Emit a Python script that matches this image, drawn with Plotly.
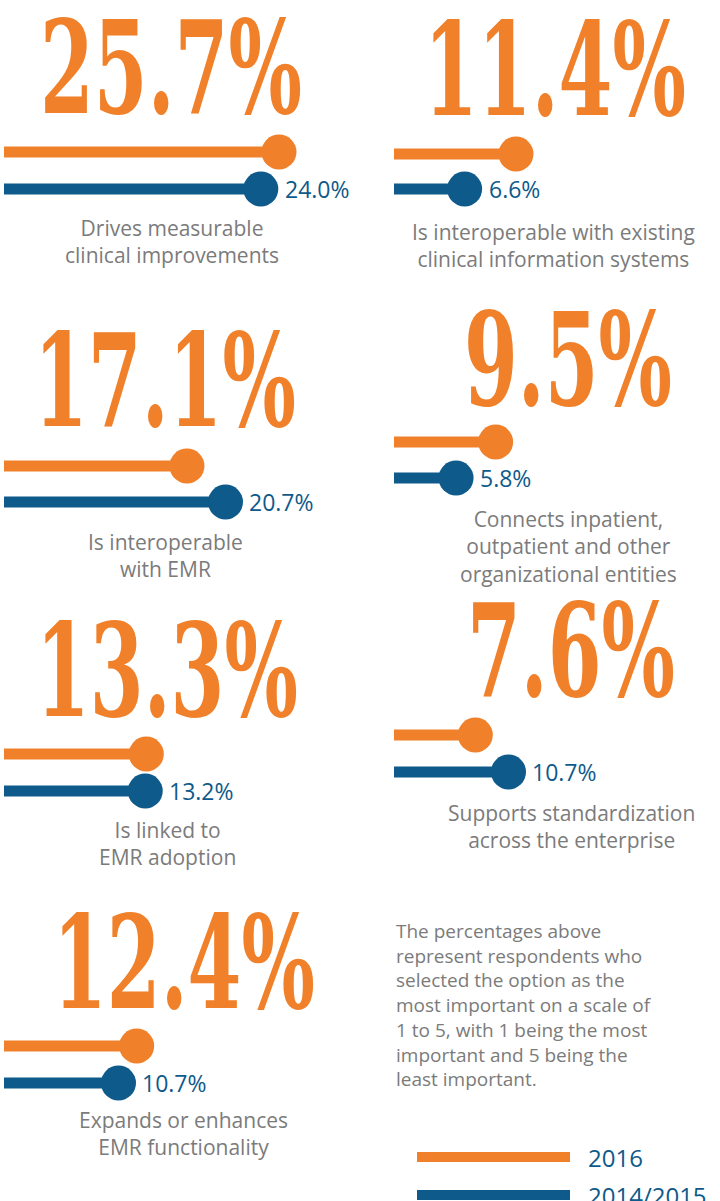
import plotly.graph_objects as go

# ---------------- data ----------------
descriptions = [
    "Drives measurable<br>clinical improvements",
    "Is interoperable with existing<br>clinical information systems",
    "Is interoperable<br>with EMR",
    "Connects inpatient,<br>outpatient and other<br>organizational entities",
    "Is linked to<br>EMR adoption",
    "Supports standardization<br>across the enterprise",
    "Expands or enhances<br>EMR functionality",
]
values_2016 = [25.7, 11.4, 17.1, 9.5, 13.3, 7.6, 12.4]
values_2014_2015 = [24.0, 6.6, 20.7, 5.8, 13.2, 10.7, 10.7]
series_names = ["2016", "2014/2015"]
note_text = ("The percentages above<br>represent respondents who<br>selected the option as the<br>"
             "most important on a scale of<br>1 to 5, with 1 being the most<br>"
             "important and 5 being the<br>least important.")

# ---------------- styling / layout (pixels) ----------------
W, H = 720, 1201
ORANGE = "#F0812A"
BLUE = "#0E5A8A"
GRAY = "#7B7B7B"
PX_PER_UNIT = 10.7
AXIS_PX = 300

panel_x0 = [4, 394, 4, 394, 4, 394, 4]
orange_y = [152, 154, 466, 442, 754, 735, 1046]
blue_y = [189, 189, 502, 478, 791, 772, 1083]
num_cx = [171, 555, 165, 568, 167, 571, 184]
num_cy = [67, 70, 380, 359, 670, 650, 962]
desc_cx = [172, 553, 165, 568, 167, 571, 183]
desc_cy = [241, 245, 556, 547, 843, 827, 1133]

BIG_FONT = "DejaVu Serif Condensed, DejaVu Sans Condensed, serif"
BIG_SIZE = 86
BIG_STRETCH = 1.5
TXT_FONT = "Open Sans, Lato, sans-serif"

fig = go.Figure()
annotations = []
layout_axes = {}

for i in range(len(values_2016)):
    n = i + 1
    xa = "x" if n == 1 else f"x{n}"
    ya = "y" if n == 1 else f"y{n}"
    for val, yv, col in ((values_2016[i], 1, ORANGE), (values_2014_2015[i], 0, BLUE)):
        fig.add_trace(go.Scatter(
            x=[0, val], y=[yv, yv], xaxis=xa, yaxis=ya,
            mode="lines+markers",
            line=dict(color=col, width=11),
            marker=dict(size=[0, 35], color=col, opacity=1, line=dict(width=0)),
            hoverinfo="skip", showlegend=False,
        ))
    x0 = panel_x0[i]
    dpx = blue_y[i] - orange_y[i]
    layout_axes[f"xaxis{n if n > 1 else ''}"] = dict(
        domain=[x0 / W, (x0 + AXIS_PX) / W], range=[0, AXIS_PX / PX_PER_UNIT],
        anchor=ya, visible=False, fixedrange=True)
    layout_axes[f"yaxis{n if n > 1 else ''}"] = dict(
        domain=[1 - (blue_y[i] + dpx) / H, 1 - (orange_y[i] - dpx) / H],
        range=[-1, 2], anchor=xa, visible=False, fixedrange=True)
    # big 2016 number
    annotations.append(dict(
        text=f"<b>{values_2016[i]:.1f}%</b>", x=num_cx[i] / W, y=1 - num_cy[i] / H,
        xref="paper", yref="paper", xanchor="center", yanchor="middle", showarrow=False,
        font=dict(family=BIG_FONT, size=BIG_SIZE, color=ORANGE)))
    # 2014/2015 value label
    annotations.append(dict(
        text=f"{values_2014_2015[i]:.1f}%", x=values_2014_2015[i], y=0,
        xref=xa, yref=ya, xanchor="left", yanchor="middle", xshift=22, showarrow=False,
        font=dict(family=TXT_FONT, size=23, color=BLUE)))
    # description
    annotations.append(dict(
        text=descriptions[i], x=desc_cx[i] / W, y=1 - desc_cy[i] / H,
        xref="paper", yref="paper", xanchor="center", yanchor="middle",
        align="center", showarrow=False,
        font=dict(family=TXT_FONT, size=21, color=GRAY)))

# note
annotations.append(dict(
    text=note_text, x=394 / W, y=1 - 1005 / H, xref="paper", yref="paper",
    xanchor="left", yanchor="middle", align="left", showarrow=False,
    font=dict(family=TXT_FONT, size=19, color=GRAY)))

# legend
shapes = []
for name, col, ly in ((series_names[0], ORANGE, 1157), (series_names[1], BLUE, 1195)):
    shapes.append(dict(type="line", xref="paper", yref="paper",
                       x0=417 / W, x1=570 / W, y0=1 - ly / H, y1=1 - ly / H,
                       line=dict(color=col, width=10)))
    annotations.append(dict(
        text=name, x=586 / W, y=1 - ly / H, xref="paper", yref="paper",
        xanchor="left", yanchor="middle", showarrow=False,
        font=dict(family=TXT_FONT, size=24, color=BLUE)))

fig.update_layout(
    width=W, height=H, margin=dict(l=0, r=0, t=0, b=0),
    paper_bgcolor="white", plot_bgcolor="white",
    showlegend=False, annotations=annotations, shapes=shapes,
    hovermode=False,
    **layout_axes,
)

post_js = """
document.body.style.margin = '0';
var gd = document.getElementById('{plot_id}');
function stretchBig() {
  var texts = gd.querySelectorAll('g.annotation text.annotation-text');
  texts.forEach(function (t) {
    var fs = parseFloat(t.style.fontSize);
    if (!(fs >= %d)) return;
    t.removeAttribute('transform');
    var b = t.getBBox();
    var cy = b.y + b.height / 2;
    t.setAttribute('transform', 'translate(0,' + cy + ') scale(1,%s) translate(0,' + (-cy) + ')');
  });
}
stretchBig();
setTimeout(stretchBig, 50);
if (gd.on) { gd.on('plotly_afterplot', stretchBig); }
""" % (BIG_SIZE, BIG_STRETCH)

fig.write_html("out.html", post_script=post_js, config={"displayModeBar": False})
